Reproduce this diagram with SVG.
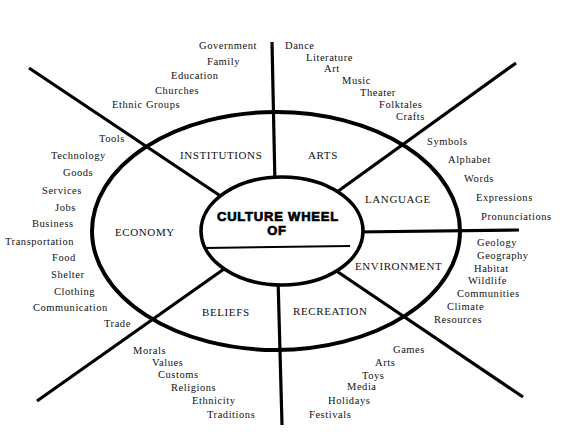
<svg xmlns="http://www.w3.org/2000/svg" width="580" height="446" viewBox="0 0 580 446">
<style>
.ln{stroke:#000;stroke-width:3.2;stroke-linecap:butt;fill:none}
.sec{font-family:"Liberation Serif","Times New Roman",serif;font-size:11px;letter-spacing:0.6px;fill:#111}
.it{font-family:"Liberation Serif","Times New Roman",serif;font-size:10.5px;letter-spacing:0.55px;fill:#111}
.ttl{font-family:"Liberation Sans",Arial,sans-serif;font-size:13px;font-weight:bold;letter-spacing:0.8px;fill:#000;stroke:#000;stroke-width:0.7;text-anchor:middle}
</style>
<rect width="580" height="446" fill="#fff"/>
<g id="ring">
<ellipse cx="276" cy="231" rx="184" ry="119" fill="none" stroke="#000" stroke-width="4"/>
</g>
<g id="connectors">
<line class="ln" x1="272" y1="42" x2="275" y2="185"/>
<line class="ln" x1="29" y1="68" x2="222" y2="197"/>
<line class="ln" x1="516" y1="63" x2="330" y2="197"/>
<line class="ln" x1="355" y1="232" x2="519" y2="230"/>
<line class="ln" x1="332" y1="268" x2="523" y2="397"/>
<line class="ln" x1="278" y1="278" x2="282" y2="425"/>
<line class="ln" x1="224" y1="269" x2="37" y2="401"/>
</g>
<g id="hub">
<ellipse cx="282" cy="231" rx="81" ry="54" fill="#fff" stroke="#000" stroke-width="3.6"/>
<text class="ttl" x="278" y="221">CULTURE WHEEL</text>
<text class="ttl" x="277" y="235">OF</text>
<line x1="205" y1="248" x2="350" y2="246" stroke="#000" stroke-width="2"/>
</g>
<g id="institutions">
<text class="sec" x="180" y="159">INSTITUTIONS</text>
<text class="it" x="199" y="49">Government</text>
<text class="it" x="207" y="65">Family</text>
<text class="it" x="171" y="79">Education</text>
<text class="it" x="155" y="94">Churches</text>
<text class="it" x="112" y="108">Ethnic Groups</text>
</g>
<g id="arts">
<text class="sec" x="308" y="159">ARTS</text>
<text class="it" x="285" y="49">Dance</text>
<text class="it" x="306" y="61">Literature</text>
<text class="it" x="324" y="72">Art</text>
<text class="it" x="342" y="84">Music</text>
<text class="it" x="360" y="96">Theater</text>
<text class="it" x="379" y="108">Folktales</text>
<text class="it" x="396" y="120">Crafts</text>
</g>
<g id="language">
<text class="sec" x="365" y="203">LANGUAGE</text>
<text class="it" x="427" y="145">Symbols</text>
<text class="it" x="448" y="163">Alphabet</text>
<text class="it" x="464" y="182">Words</text>
<text class="it" x="476" y="201">Expressions</text>
<text class="it" x="481" y="220">Pronunciations</text>
</g>
<g id="environment">
<text class="sec" x="355" y="270">ENVIRONMENT</text>
<text class="it" x="477" y="246">Geology</text>
<text class="it" x="477" y="259">Geography</text>
<text class="it" x="474" y="272">Habitat</text>
<text class="it" x="468" y="284">Wildlife</text>
<text class="it" x="457" y="297">Communities</text>
<text class="it" x="447" y="310">Climate</text>
<text class="it" x="434" y="323">Resources</text>
</g>
<g id="recreation">
<text class="sec" x="293" y="315">RECREATION</text>
<text class="it" x="393" y="353">Games</text>
<text class="it" x="375" y="366">Arts</text>
<text class="it" x="362" y="379">Toys</text>
<text class="it" x="347" y="390">Media</text>
<text class="it" x="328" y="404">Holidays</text>
<text class="it" x="309" y="418">Festivals</text>
</g>
<g id="beliefs">
<text class="sec" x="202" y="316">BELIEFS</text>
<text class="it" x="133" y="354">Morals</text>
<text class="it" x="152" y="366">Values</text>
<text class="it" x="158" y="378">Customs</text>
<text class="it" x="171" y="391">Religions</text>
<text class="it" x="192" y="404">Ethnicity</text>
<text class="it" x="207" y="418">Traditions</text>
</g>
<g id="economy">
<text class="sec" x="115" y="236">ECONOMY</text>
<text class="it" x="99" y="142">Tools</text>
<text class="it" x="51" y="159">Technology</text>
<text class="it" x="63" y="176">Goods</text>
<text class="it" x="42" y="194">Services</text>
<text class="it" x="55" y="211">Jobs</text>
<text class="it" x="32" y="227">Business</text>
<text class="it" x="5" y="245">Transportation</text>
<text class="it" x="52" y="261">Food</text>
<text class="it" x="51" y="278">Shelter</text>
<text class="it" x="54" y="295">Clothing</text>
<text class="it" x="33" y="311">Communication</text>
<text class="it" x="104" y="327">Trade</text>
</g>
</svg>
